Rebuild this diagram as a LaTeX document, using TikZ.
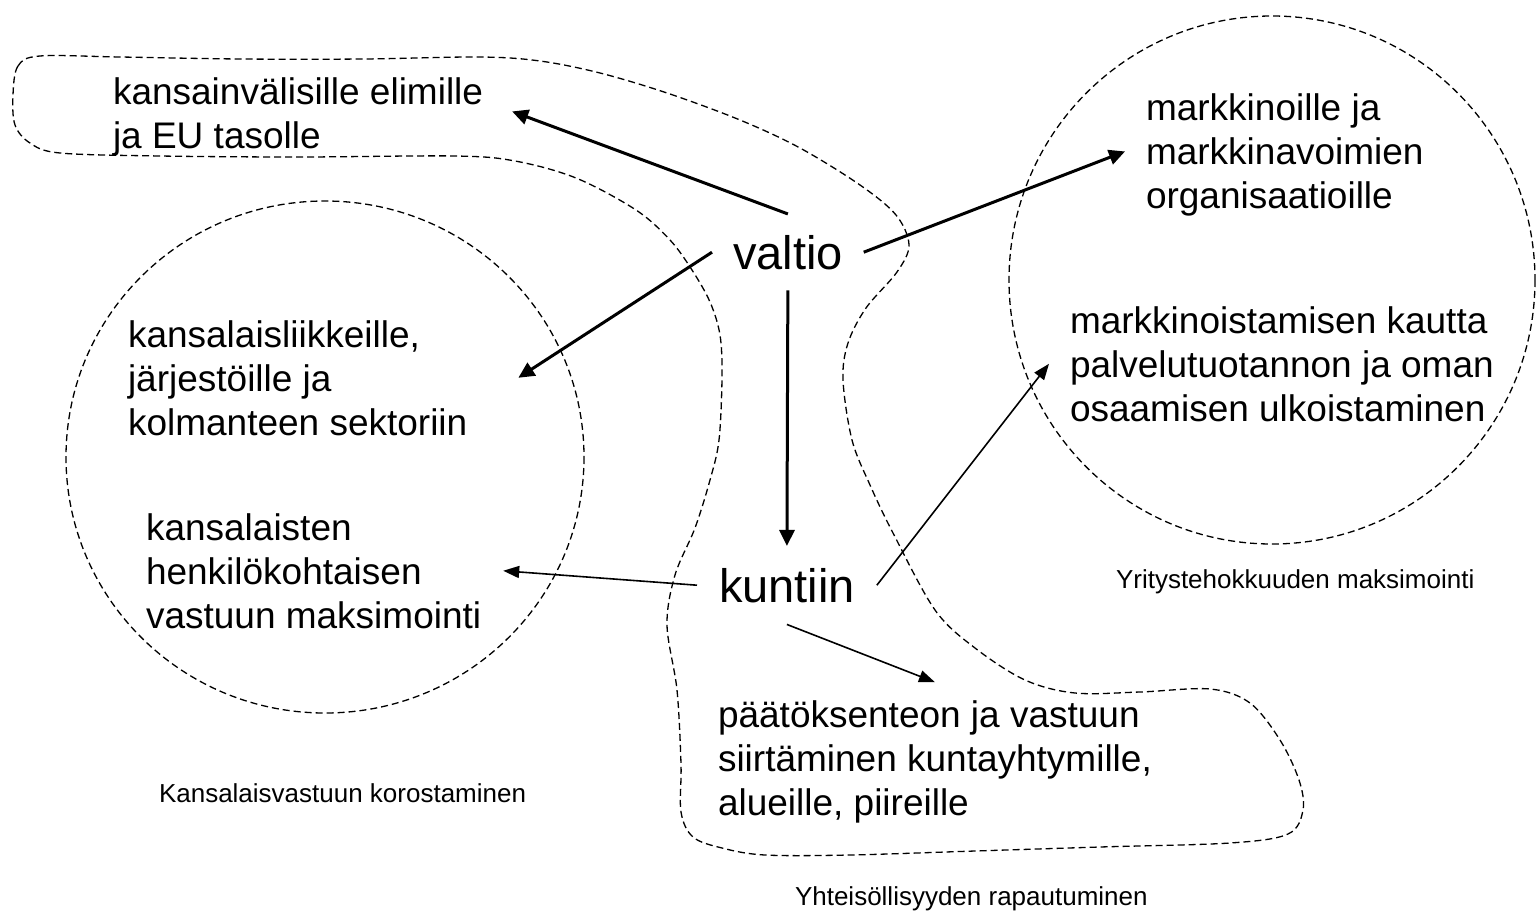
\documentclass[tikz,border=0pt]{standalone}
\usepackage{fontspec}
\setmainfont{Liberation Sans}
\usetikzlibrary{arrows.meta}
\begin{document}
\begin{tikzpicture}[x=1pt,y=-1pt,
  txt/.style={inner sep=0pt, anchor=base west, align=left, font=\fontsize{37}{44}\selectfont},
  bigtxt/.style={inner sep=0pt, anchor=base west, font=\fontsize{47}{56}\selectfont},
  smalltxt/.style={inner sep=0pt, outer sep=0pt, anchor=base west, font=\fontsize{26}{31}\selectfont},
  blob/.style={draw=black, line width=1.3pt, dash pattern=on 7pt off 4pt},
  arrowthick/.style={draw, line width=3pt, -{Triangle[length=16pt,width=15pt]}},
  arrowthin/.style={draw, line width=1.6pt, -{Triangle[length=16pt,width=12pt]}},
]
\useasboundingbox (0,0) rectangle (1538,918);

% dashed regions
\draw[blob] (325,457) ellipse [x radius=259, y radius=256];
\draw[blob] (1272,280) ellipse [x radius=263, y radius=264];
\draw[blob] plot[smooth cycle, tension=0.55] coordinates {
 (13,95) (18,66) (40,56) (120,57) (240,59) (364,59) (480,57) (540,61) (600,73)
 (667,93) (740,120) (800,148) (860,185) (896,215) (909,245) (897,272) (866,308)
 (848,343) (843,380) (852,440) (870,485) (893,533) (935,610) (975,648) (1025,680)
 (1075,693) (1140,692) (1210,689) (1250,703) (1280,740) (1299,780) (1303,810)
 (1288,834) (1230,843) (1100,847) (975,851) (850,855) (765,855) (722,848) (693,837)
 (681,812) (681,764) (677,690) (667,625) (675,575) (695,528) (710,480) (719,440)
 (722,377) (720,335) (710,302) (692,270) (670,240) (636,210) (576,178) (515,161)
 (455,156) (300,157) (160,156) (60,153) (30,143) (15,125)};

% main nodes
\node[bigtxt, outer sep=21pt] (valtio) at (712,269) {valtio};
\node[bigtxt, outer sep=22pt] (kuntiin) at (697,602) {kuntiin};

% text blocks (anchored at the baseline of the last line)
\node[txt, outer sep=29pt] (kansainv) at (84,148) {kansainvälisille elimille\\ja EU tasolle};
\node[txt, outer sep=51pt] (kansalais) at (77,435) {kansalaisliikkeille,\\järjestöille ja\\kolmanteen sektoriin};
\node[txt, outer sep=22pt] (kansalaisten) at (124,628) {kansalaisten\\henkilökohtaisen\\vastuun maksimointi};
\node[txt, outer sep=21pt] (markk) at (1125,208) {markkinoille ja\\markkinavoimien\\organisaatioille};
\node[txt, outer sep=21pt] (markkinoist) at (1049,421) {markkinoistamisen kautta\\palvelutuotannon ja oman\\osaamisen ulkoistaminen};
\node[txt, outer sep=18pt] (paatok) at (700,815) {päätöksenteon ja vastuun\\siirtäminen kuntayhtymille,\\alueille, piireille};

% captions
\node[smalltxt] (yritys) at (1116,588) {Yritystehokkuuden maksimointi};
\node[smalltxt] (kansvast) at (159,802) {Kansalaisvastuun korostaminen};
\node[smalltxt] (yhteis) at (795,905) {Yhteisöllisyyden rapautuminen};

% connectors
\draw[arrowthick] (valtio.north) -- ([yshift=5pt]kansainv.east);
\draw[arrowthick] (valtio.west) -- (kansalais.east);
\draw[arrowthick] (valtio.east) -- ([yshift=3pt]markk.west);
\draw[arrowthick] (valtio.south) -- (kuntiin.north);
\draw[arrowthin] (kuntiin.west) -- (kansalaisten.east);
\draw[arrowthin] (kuntiin.east) -- (markkinoist.west);
\draw[arrowthin] (kuntiin.south) -- (paatok.north);
\end{tikzpicture}
\end{document}
